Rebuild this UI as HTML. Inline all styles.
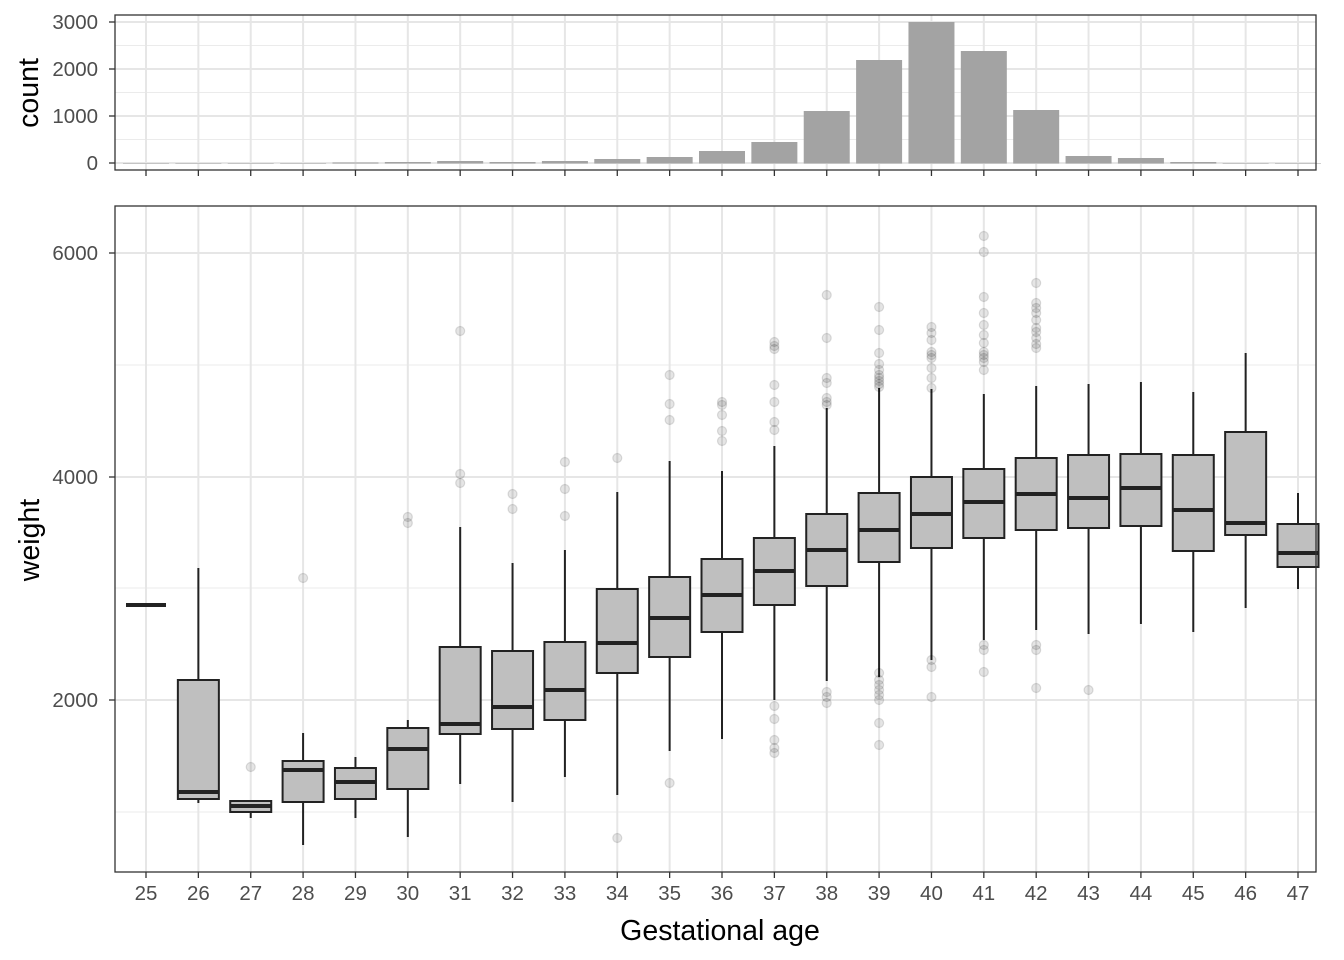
<!DOCTYPE html>
<html><head><meta charset="utf-8"><style>body{margin:0;background:#fff}svg{display:block}text{font-family:"Liberation Sans",Arial,sans-serif}</style></head>
<body>
<svg id="s" width="1344" height="960" xmlns="http://www.w3.org/2000/svg"></svg>
<script>
const s=document.getElementById('s');let h='';
const X=i=>146+i*52.364;
h+='<rect x="115" y="15" width="1201" height="155" fill="#fff"/>';
for(const y of [45.5,92.5,139.5])h+=`<line x1="115" x2="1316" y1="${y}" y2="${y}" stroke="#ebebeb" stroke-width="1"/>`;
for(const y of [22,69,116,163])h+=`<line x1="115" x2="1316" y1="${y}" y2="${y}" stroke="#e6e6e6" stroke-width="2"/>`;
for(let i=0;i<23;i++)h+=`<line x1="${X(i)}" x2="${X(i)}" y1="15" y2="170" stroke="#e6e6e6" stroke-width="2"/>`;
const tops=[163,163,163,163,162.5,162,161,162,161,159,157,151,142,111,60,22,51,110,156,158,162,163,163];
tops.forEach((t,i)=>{h+=`<rect x="${X(i)-23}" y="${t}" width="46" height="${163-t+0.5}" fill="#a3a3a3"/>`});
h+='<rect x="115" y="15" width="1201" height="155" fill="none" stroke="#333" stroke-width="1.3"/>';
[[22,'3000'],[69,'2000'],[116,'1000'],[163,'0']].forEach(([y,t])=>{h+=`<text x="98" y="${y+7}" font-size="20.5" fill="#4d4d4d" text-anchor="end">${t}</text><line x1="109" x2="115" y1="${y}" y2="${y}" stroke="#333" stroke-width="1.3"/>`});
for(let i=0;i<23;i++)h+=`<line x1="${X(i)}" x2="${X(i)}" y1="170" y2="176" stroke="#333" stroke-width="1.3"/>`;
h+='<text transform="translate(38,93) rotate(-90)" font-size="28.5" text-anchor="middle">count</text>';
for(const y of [365,588,812])h+=`<line x1="115" x2="1316" y1="${y}" y2="${y}" stroke="#ebebeb" stroke-width="1"/>`;
for(const y of [253,477,700])h+=`<line x1="115" x2="1316" y1="${y}" y2="${y}" stroke="#e6e6e6" stroke-width="2"/>`;
for(let i=0;i<23;i++)h+=`<line x1="${X(i)}" x2="${X(i)}" y1="206" y2="872" stroke="#e6e6e6" stroke-width="2"/>`;
const B=[
null,
[680,799,792,568,803,[]],
[801,812,806,801,818,[767]],
[761,802,770,733,845,[578]],
[768,799,782,757,818,[]],
[728,789,749,720,837,[517,523]],
[647,734,724,527,784,[331,474,483]],
[651,729,707,563,802,[494,509]],
[642,720,690,550,777,[462,489,516]],
[589,673,643,492,795,[458,838]],
[577,657,618,461,751,[375,404,420,783]],
[559,632,595,471,739,[402,405,415,431,441]],
[538,605,571,446,700,[342,346,349,385,402,422,430,706,719,740,748,753]],
[514,586,550,408,681,[295,338,378,383,398,402,405,692,697,703]],
[493,562,530,388,677,[307,330,353,364,370,375,378,381,384,387,673,680,685,690,695,700,723,745]],
[477,548,514,389,660,[327,333,340,352,355,358,368,378,388,660,667,697]],
[469,538,502,394,640,[236,252,297,313,325,335,343,352,355,358,362,370,645,650,672]],
[458,530,494,386,630,[283,303,308,313,320,328,332,338,344,348,645,650,688]],
[455,528,498,384,634,[690]],
[454,526,488,382,624,[]],
[455,551,510,392,632,[]],
[432,535,523,353,608,[]],
[524,567,553,493,589,[]]];
B.forEach((b,i)=>{const x=X(i);if(!b){h+=`<line x1="${x-20}" x2="${x+20}" y1="605" y2="605" stroke="#222" stroke-width="4"/>`;return;}
const [q3,q1,m,wt,wb,o]=b;
h+=`<line x1="${x}" x2="${x}" y1="${wt}" y2="${q3}" stroke="#222" stroke-width="2"/><line x1="${x}" x2="${x}" y1="${q1}" y2="${wb}" stroke="#222" stroke-width="2"/>`;
h+=`<rect x="${x-20.5}" y="${q3}" width="41" height="${q1-q3}" fill="#bfbfbf" stroke="#222" stroke-width="2"/>`;
h+=`<line x1="${x-20.5}" x2="${x+20.5}" y1="${m}" y2="${m}" stroke="#222" stroke-width="4"/>`;
o.forEach(y=>{h+=`<circle cx="${x}" cy="${y}" r="4.5" fill="#000" fill-opacity="0.1" stroke="#000" stroke-opacity="0.12" stroke-width="1.2"/>`});});
h+='<rect x="115" y="206" width="1201" height="666" fill="none" stroke="#333" stroke-width="1.3"/>';
[[253,'6000'],[477,'4000'],[700,'2000']].forEach(([y,t])=>{h+=`<text x="98" y="${y+7}" font-size="20.5" fill="#4d4d4d" text-anchor="end">${t}</text><line x1="109" x2="115" y1="${y}" y2="${y}" stroke="#333" stroke-width="1.3"/>`});
for(let i=0;i<23;i++)h+=`<line x1="${X(i)}" x2="${X(i)}" y1="872" y2="878" stroke="#333" stroke-width="1.3"/><text x="${X(i)}" y="900" font-size="20.5" fill="#4d4d4d" text-anchor="middle">${25+i}</text>`;
h+='<text transform="translate(39,540) rotate(-90)" font-size="28.5" text-anchor="middle">weight</text>';
h+='<text x="720" y="940" font-size="28.5" text-anchor="middle">Gestational age</text>';
s.innerHTML=h;
</script>
</body></html>
